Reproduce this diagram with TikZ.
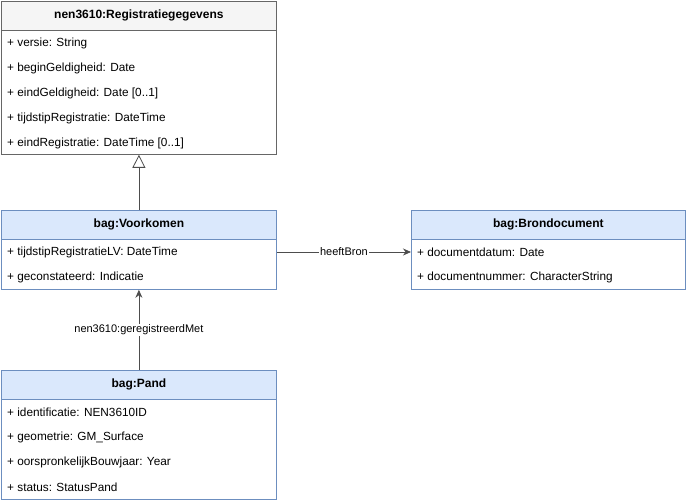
\documentclass[tikz,border=0pt]{standalone}
\usepackage{fontspec}
\setmainfont{Liberation Sans}
\usetikzlibrary{arrows.meta}
\definecolor{grayfill}{HTML}{F5F5F5}
\definecolor{grayline}{HTML}{666666}
\definecolor{bluefill}{HTML}{DAE8FC}
\definecolor{blueline}{HTML}{6C8EBF}
\definecolor{edgecol}{HTML}{4D4D4D}
\tikzset{
  x=1pt, y=-1pt,
  classbox/.style={draw=#1, fill=white, line width=0.8pt, minimum width=275pt, inner sep=0pt, anchor=north west},
  classhead/.style={classbox=#1, minimum height=29pt, font=\fontsize{12}{14}\selectfont\bfseries},
  attr/.style={anchor=west, inner sep=0pt, font=\fontsize{11.8}{14}\selectfont},
  edge/.style={draw=edgecol, line width=0.8pt},
  lbl/.style={fill=white, inner sep=1pt, font=\fontsize{11}{13}\selectfont}
}
\begin{document}
\begin{tikzpicture}
\useasboundingbox (0,0) rectangle (686,500);
% Registratiegegevens
\node[classbox=grayline, minimum height=153pt] (reg) at (1,1) {};
\node[classhead=grayline, fill=grayfill] (hreg) at (1,1) {nen3610:Registratiegegevens};
\node[attr] (r1) at (7,43) {+ versie: String};
\node[attr] (r2) at (7,68) {+ beginGeldigheid: Date};
\node[attr] (r3) at (7,93) {+ eindGeldigheid: Date [0..1]};
\node[attr] (r4) at (7,118) {+ tijdstipRegistratie: DateTime};
\node[attr] (r5) at (7,143) {+ eindRegistratie: DateTime [0..1]};
% Voorkomen
\node[classbox=blueline, minimum height=79pt] (voo) at (1,210) {};
\node[classhead=blueline, fill=bluefill] (hvoo) at (1,210) {bag:Voorkomen};
\node[attr] (v1) at (7,252) {+ tijdstipRegistratieLV: DateTime};
\node[attr] (v2) at (7,277) {+ geconstateerd: Indicatie};
% Brondocument
\node[classbox=blueline, minimum height=79pt, minimum width=274pt] (bron) at (411,210) {};
\node[classhead=blueline, fill=bluefill, minimum width=274pt] (hbron) at (411,210) {bag:Brondocument};
\node[attr] (b1) at (417,252) {+ documentdatum: Date};
\node[attr] (b2) at (417,277) {+ documentnummer: CharacterString};
% Pand
\node[classbox=blueline, minimum height=129pt] (pand) at (1,370) {};
\node[classhead=blueline, fill=bluefill] (hpand) at (1,370) {bag:Pand};
\node[attr] (p1) at (7,412) {+ identificatie: NEN3610ID};
\node[attr] (p2) at (7,437) {+ geometrie: GM\_Surface};
\node[attr] (p3) at (7,462) {+ oorspronkelijkBouwjaar: Year};
\node[attr] (p4) at (7,487) {+ status: StatusPand};
% connectors
\draw[edge, -{Triangle[open, length=13pt, width=13pt, fill=white]}] (hvoo.north) -- (reg.south);
\coordinate (hbS) at (voo.east |- v1);
\coordinate (hbE) at (bron.west |- v1);
\draw[edge, -{Stealth[length=8pt, width=7pt]}] (hbS) -- node[lbl] (lhb) {heeftBron} (hbE);
\draw[edge, -{Stealth[length=8pt, width=7pt]}] (hpand.north) -- node[lbl, pos=0.5] (lgm) {nen3610:geregistreerdMet} (voo.south);
\end{tikzpicture}
\end{document}
